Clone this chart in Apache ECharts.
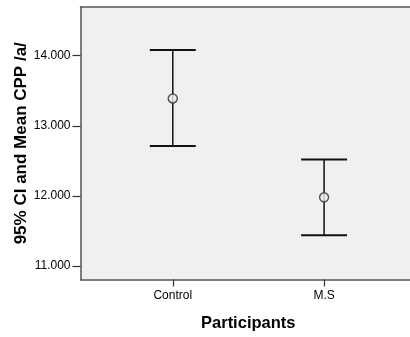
<!DOCTYPE html>
<html>
<head>
<meta charset="utf-8">
<script src="https://cdn.jsdelivr.net/npm/echarts@6/dist/echarts.min.js"></script>
<style>
  html, body { margin: 0; padding: 0; background: #fff; overflow: hidden; }
  #chart { width: 410px; height: 337px; }
</style>
</head>
<body>
<div id="chart"></div>
<script>
  // groups and their 95% CI / mean values
  var categories = ['Control', 'M.S']
  var means = [13.39, 11.98]
  var lower = [12.71, 11.44]
  var upper = [14.08, 12.52]
  var yTicks = [11, 12, 13, 14]

  var font = '"Liberation Sans", Arial, sans-serif'

  var chart = echarts.init(document.getElementById('chart'))

  chart.setOption({
    backgroundColor: '#fff',
    animation: false,
    grid: {
      show: true,
      left: 80.5,
      top: 7,
      right: -20,
      bottom: 57.5,
      backgroundColor: '#f0f0f0',
      borderWidth: 0,
      containLabel: false,
      outerBoundsMode: 'none'
    },
    xAxis: [{
      type: 'value',
      min: 0.39,
      max: 2.70,
      name: 'Participants',
      nameLocation: 'middle',
      nameGap: 35,
      nameMoveOverlap: false,
      nameTextStyle: { fontFamily: font, fontWeight: 'bold', fontSize: 16.5, color: '#000', padding: [0, 14, 0, 0] },
      axisLine: { show: true, lineStyle: { color: '#555', width: 1.5 } },
      axisTick: { show: true, length: 7, customValues: [1, 2], lineStyle: { color: '#333', width: 1.2 } },
      axisLabel: {
        customValues: [1, 2],
        margin: 10,
        fontFamily: font,
        fontSize: 12,
        color: '#000',
        formatter: function (v) { return categories[Math.round(v) - 1] || '' }
      },
      splitLine: { show: false }
    }, {
      // top frame line of the plot
      type: 'value',
      position: 'top',
      min: 0.39,
      max: 2.70,
      axisLine: { show: true, lineStyle: { color: '#555', width: 1.5 } },
      axisTick: { show: false },
      axisLabel: { show: false },
      splitLine: { show: false }
    }],
    yAxis: {
      type: 'value',
      min: 10.807,
      max: 14.695,
      name: '95% CI and Mean CPP /a/',
      nameLocation: 'middle',
      nameGap: 51,
      nameMoveOverlap: false,
      nameTextStyle: { fontFamily: font, fontWeight: 'bold', fontSize: 17, color: '#000' },
      axisLine: { show: true, lineStyle: { color: '#555', width: 1.5 } },
      axisTick: { show: true, length: 8, customValues: yTicks, lineStyle: { color: '#333', width: 1.2 } },
      axisLabel: {
        customValues: yTicks,
        margin: 10,
        fontFamily: font,
        fontSize: 12,
        color: '#000',
        formatter: function (v) { return v.toFixed(3) }
      },
      splitLine: { show: false }
    },
    series: [
      {
        type: 'custom',
        data: categories.map(function (c, i) { return [i + 1, lower[i], upper[i]] }),
        renderItem: function (params, api) {
          var x = api.value(0)
          var lo = api.coord([x, api.value(1)])
          var hi = api.coord([x, api.value(2)])
          var half = 23
          var style = { stroke: '#111', lineWidth: 2 }
          return {
            type: 'group',
            children: [
              { type: 'line', shape: { x1: lo[0], y1: lo[1], x2: hi[0], y2: hi[1] }, style: { stroke: '#111', lineWidth: 1.5 } },
              { type: 'line', shape: { x1: hi[0] - half, y1: hi[1], x2: hi[0] + half, y2: hi[1] }, style: style },
              { type: 'line', shape: { x1: lo[0] - half, y1: lo[1], x2: lo[0] + half, y2: lo[1] }, style: style }
            ]
          }
        },
        z: 2
      },
      {
        type: 'scatter',
        data: categories.map(function (c, i) { return [i + 1, means[i]] }),
        symbol: 'circle',
        symbolSize: 9,
        itemStyle: { color: '#f0f0f0', borderColor: '#333', borderWidth: 1.5 },
        z: 3
      }
    ]
  })
</script>
</body>
</html>
